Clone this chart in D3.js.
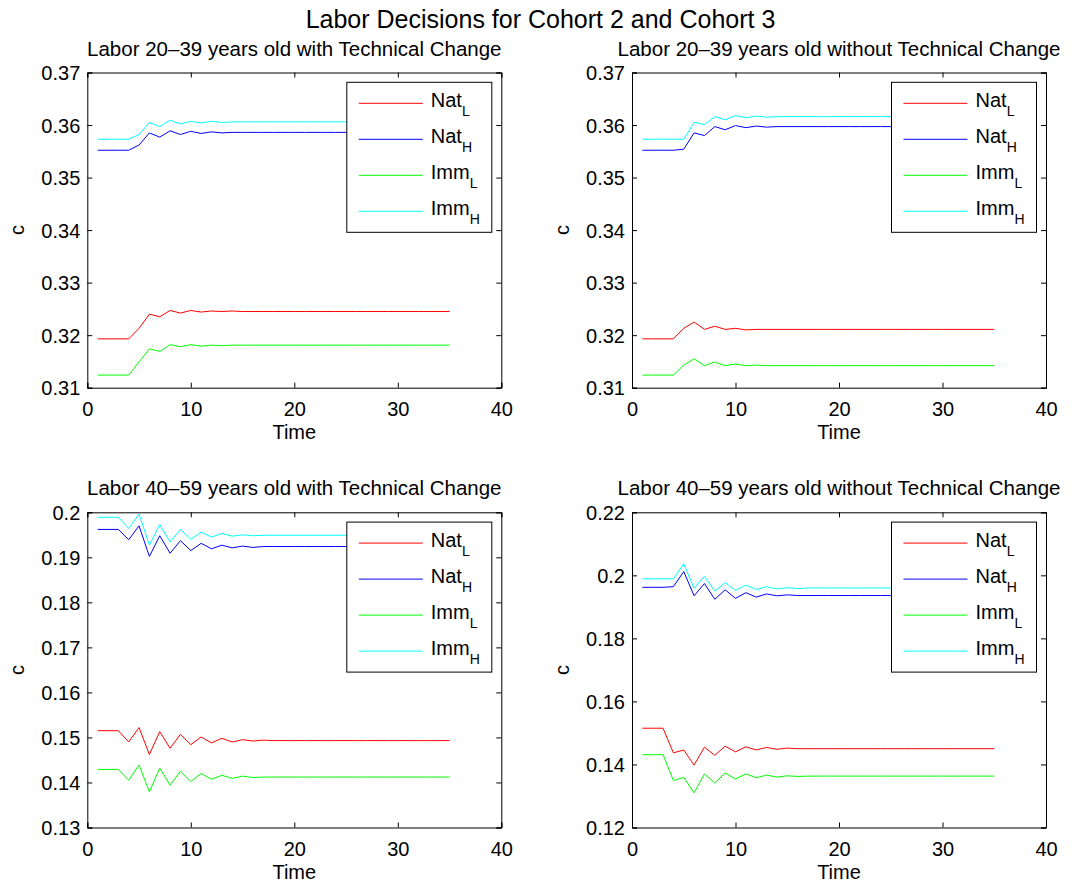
<!DOCTYPE html>
<html>
<head>
<meta charset="utf-8">
<script src="https://cdn.jsdelivr.net/npm/d3@7/dist/d3.min.js"></script>
<style>
  html, body { margin: 0; padding: 0; background: #fff; }
  svg { display: block; }
  text { font-family: "Liberation Sans", Arial, Helvetica, sans-serif; fill: #000; }
</style>
</head>
<body>
<svg id="chart" width="1081" height="882"></svg>
<script>
// ---------------- DATA ----------------
const mainTitle = "Labor Decisions for Cohort 2 and Cohort 3";
const panelTitles = [
  "Labor 20\u201339 years old with Technical Change",
  "Labor 20\u201339 years old without Technical Change",
  "Labor 40\u201359 years old with Technical Change",
  "Labor 40\u201359 years old without Technical Change"
];
const seriesNames = ["Nat", "Nat", "Imm", "Imm"];
const seriesSubs = ["L", "H", "L", "H"];
const seriesColors = ["#ff0000", "#0000ff", "#00ff00", "#00ffff"];

const time = [1,2,3,4,5,6,7,8,9,10,11,12,13,14,15,16,17,18,19,20,21,22,23,24,25,26,27,28,29,30,31,32,33,34,35];

const xTicks = [0, 10, 20, 30, 40];
const yTicksTop = [0.31, 0.32, 0.33, 0.34, 0.35, 0.36, 0.37];
const yTickLabelsTop = ["0.31", "0.32", "0.33", "0.34", "0.35", "0.36", "0.37"];
const yTicksBL = [0.13, 0.14, 0.15, 0.16, 0.17, 0.18, 0.19, 0.2];
const yTickLabelsBL = ["0.13", "0.14", "0.15", "0.16", "0.17", "0.18", "0.19", "0.2"];
const yTicksBR = [0.12, 0.14, 0.16, 0.18, 0.2, 0.22];
const yTickLabelsBR = ["0.12", "0.14", "0.16", "0.18", "0.2", "0.22"];

// Panel 1: 20-39, with technical change
const p1NatL = [0.3193,0.3193,0.3193,0.3193,0.3213,0.3240,0.3235,0.3247,0.3242,0.3247,
                0.3244,0.3246,0.3245,0.3246,0.3245,0.3245,0.3245,0.3245,0.3245,0.3245,
                0.3245,0.3245,0.3245,0.3245,0.3245,0.3245,0.3245,0.3245,0.3245,0.3245,
                0.3245,0.3245,0.3245,0.3245,0.3245];
const p1NatH = [0.3552,0.3552,0.3552,0.3552,0.3562,0.3585,0.3577,0.3589,0.3582,0.3588,
                0.3584,0.3587,0.3585,0.3586,0.3586,0.3586,0.3586,0.3586,0.3586,0.3586,
                0.3586,0.3586,0.3586,0.3586,0.3586,0.3586,0.3586,0.3586,0.3586,0.3586,
                0.3586,0.3586,0.3586,0.3586,0.3586];
const p1ImmL = [0.3124,0.3124,0.3124,0.3124,0.3149,0.3174,0.3169,0.3182,0.3178,0.3182,
                0.3179,0.3181,0.3180,0.3181,0.3181,0.3181,0.3181,0.3181,0.3181,0.3181,
                0.3181,0.3181,0.3181,0.3181,0.3181,0.3181,0.3181,0.3181,0.3181,0.3181,
                0.3181,0.3181,0.3181,0.3181,0.3181];
const p1ImmH = [0.3573,0.3573,0.3573,0.3573,0.3582,0.3605,0.3597,0.3609,0.3602,0.3607,
                0.3604,0.3607,0.3605,0.3606,0.3606,0.3606,0.3606,0.3606,0.3606,0.3606,
                0.3606,0.3606,0.3606,0.3606,0.3606,0.3606,0.3606,0.3606,0.3606,0.3606,
                0.3606,0.3606,0.3606,0.3606,0.3606];

// Panel 2: 20-39, without technical change
const p2NatL = [0.3193,0.3193,0.3193,0.3193,0.3213,0.3225,0.3211,0.3217,0.3211,0.3213,
                0.3210,0.3211,0.3211,0.3211,0.3211,0.3211,0.3211,0.3211,0.3211,0.3211,
                0.3211,0.3211,0.3211,0.3211,0.3211,0.3211,0.3211,0.3211,0.3211,0.3211,
                0.3211,0.3211,0.3211,0.3211,0.3211];
const p2NatH = [0.3552,0.3552,0.3552,0.3552,0.3554,0.3585,0.3580,0.3597,0.3591,0.3599,
                0.3595,0.3598,0.3596,0.3597,0.3597,0.3597,0.3597,0.3597,0.3597,0.3597,
                0.3597,0.3597,0.3597,0.3597,0.3597,0.3597,0.3597,0.3597,0.3597,0.3597,
                0.3597,0.3597,0.3597,0.3597,0.3597];
const p2ImmL = [0.3124,0.3124,0.3124,0.3124,0.3143,0.3155,0.3142,0.3149,0.3142,0.3145,
                0.3142,0.3143,0.3142,0.3142,0.3142,0.3142,0.3142,0.3142,0.3142,0.3142,
                0.3142,0.3142,0.3142,0.3142,0.3142,0.3142,0.3142,0.3142,0.3142,0.3142,
                0.3142,0.3142,0.3142,0.3142,0.3142];
const p2ImmH = [0.3573,0.3573,0.3573,0.3573,0.3573,0.3605,0.3601,0.3616,0.3610,0.3618,
                0.3614,0.3617,0.3615,0.3616,0.3616,0.3616,0.3616,0.3616,0.3616,0.3616,
                0.3616,0.3616,0.3616,0.3616,0.3616,0.3616,0.3616,0.3616,0.3616,0.3616,
                0.3616,0.3616,0.3616,0.3616,0.3616];

// Panel 3: 40-59, with technical change
const p3NatL = [0.1515,0.1515,0.1515,0.1490,0.1522,0.1462,0.1513,0.1476,0.1507,0.1484,
                0.1501,0.1488,0.1498,0.1490,0.1495,0.1492,0.1494,0.1493,0.1493,0.1493,
                0.1493,0.1493,0.1493,0.1493,0.1493,0.1493,0.1493,0.1493,0.1493,0.1493,
                0.1493,0.1493,0.1493,0.1493,0.1493];
const p3NatH = [0.1962,0.1962,0.1962,0.1939,0.1970,0.1902,0.1948,0.1909,0.1937,0.1915,
                0.1931,0.1919,0.1927,0.1921,0.1925,0.1922,0.1924,0.1924,0.1924,0.1924,
                0.1924,0.1924,0.1924,0.1924,0.1924,0.1924,0.1924,0.1924,0.1924,0.1924,
                0.1924,0.1924,0.1924,0.1924,0.1924];
const p3ImmL = [0.1429,0.1429,0.1429,0.1405,0.1439,0.1379,0.1432,0.1394,0.1425,0.1402,
                0.1420,0.1407,0.1416,0.1409,0.1414,0.1411,0.1412,0.1412,0.1412,0.1412,
                0.1412,0.1412,0.1412,0.1412,0.1412,0.1412,0.1412,0.1412,0.1412,0.1412,
                0.1412,0.1412,0.1412,0.1412,0.1412];
const p3ImmH = [0.1989,0.1989,0.1989,0.1964,0.1996,0.1927,0.1973,0.1934,0.1962,0.1940,
                0.1956,0.1945,0.1953,0.1947,0.1950,0.1948,0.1949,0.1949,0.1949,0.1949,
                0.1949,0.1949,0.1949,0.1949,0.1949,0.1949,0.1949,0.1949,0.1949,0.1949,
                0.1949,0.1949,0.1949,0.1949,0.1949];

// Panel 4: 40-59, without technical change
const p4NatL = [0.1515,0.1515,0.1515,0.1437,0.1446,0.1398,0.1455,0.1429,0.1458,0.1440,
                0.1456,0.1446,0.1454,0.1448,0.1452,0.1450,0.1450,0.1450,0.1450,0.1450,
                0.1450,0.1450,0.1450,0.1450,0.1450,0.1450,0.1450,0.1450,0.1450,0.1450,
                0.1450,0.1450,0.1450,0.1450,0.1450];
const p4NatH = [0.1962,0.1962,0.1962,0.1964,0.2012,0.1935,0.1974,0.1924,0.1954,0.1927,
                0.1945,0.1931,0.1941,0.1935,0.1938,0.1936,0.1936,0.1936,0.1936,0.1936,
                0.1936,0.1936,0.1936,0.1936,0.1936,0.1936,0.1936,0.1936,0.1936,0.1936,
                0.1936,0.1936,0.1936,0.1936,0.1936];
const p4ImmL = [0.1431,0.1431,0.1431,0.1349,0.1359,0.1310,0.1370,0.1341,0.1373,0.1354,
                0.1370,0.1358,0.1366,0.1360,0.1364,0.1362,0.1363,0.1363,0.1363,0.1363,
                0.1363,0.1363,0.1363,0.1363,0.1363,0.1363,0.1363,0.1363,0.1363,0.1363,
                0.1363,0.1363,0.1363,0.1363,0.1363];
const p4ImmH = [0.1989,0.1989,0.1989,0.1989,0.2037,0.1959,0.1997,0.1950,0.1977,0.1952,
                0.1969,0.1955,0.1964,0.1957,0.1961,0.1958,0.1960,0.1960,0.1960,0.1960,
                0.1960,0.1960,0.1960,0.1960,0.1960,0.1960,0.1960,0.1960,0.1960,0.1960,
                0.1960,0.1960,0.1960,0.1960,0.1960];

// ---------------- LAYOUT ----------------
const svg = d3.select("#chart");
const AW = 414, AH = 315.2;
const panels = [
  { x0: 87.3, y0: 72.5,  title: panelTitles[0], yDomain: [0.31, 0.37], yTicks: yTicksTop, yLabels: yTickLabelsTop, series: [p1NatL, p1NatH, p1ImmL, p1ImmH] },
  { x0: 632,  y0: 72.5,  title: panelTitles[1], yDomain: [0.31, 0.37], yTicks: yTicksTop, yLabels: yTickLabelsTop, series: [p2NatL, p2NatH, p2ImmL, p2ImmH] },
  { x0: 87.3, y0: 512.3, title: panelTitles[2], yDomain: [0.13, 0.2],  yTicks: yTicksBL,  yLabels: yTickLabelsBL,  series: [p3NatL, p3NatH, p3ImmL, p3ImmH] },
  { x0: 632,  y0: 512.3, title: panelTitles[3], yDomain: [0.12, 0.22], yTicks: yTicksBR,  yLabels: yTickLabelsBR,  series: [p4NatL, p4NatH, p4ImmL, p4ImmH] }
];

svg.append("text")
  .attr("x", 540.5).attr("y", 28)
  .attr("text-anchor", "middle")
  .style("font-size", "25px")
  .text(mainTitle);

const TICK = 5;
const FS = 20;

panels.forEach(p => {
  const g = svg.append("g").attr("transform", `translate(${p.x0},${p.y0})`);
  const x = d3.scaleLinear().domain([0, 40]).range([0, AW]);
  const y = d3.scaleLinear().domain(p.yDomain).range([AH, 0]);

  // lines
  const line = d3.line().x((d, i) => x(time[i])).y(d => y(d));
  p.series.forEach((s, k) => {
    g.append("path")
      .datum(s)
      .attr("d", line)
      .attr("fill", "none")
      .attr("stroke", seriesColors[k])
      .attr("stroke-width", 1);
  });

  // axes (ticks inward, all four sides)
  const axBottom = d3.axisBottom(x).tickValues(xTicks).tickSize(-TICK).tickFormat(d => d);
  const axTop = d3.axisTop(x).tickValues(xTicks).tickSize(-TICK).tickFormat("");
  const axLeft = d3.axisLeft(y).tickValues(p.yTicks).tickSize(-TICK).tickFormat((d, i) => p.yLabels[i]);
  const axRight = d3.axisRight(y).tickValues(p.yTicks).tickSize(-TICK).tickFormat("");

  const gb = g.append("g").attr("transform", `translate(0,${AH})`).call(axBottom);
  const gt = g.append("g").call(axTop);
  const gl = g.append("g").call(axLeft);
  const gr = g.append("g").attr("transform", `translate(${AW},0)`).call(axRight);
  [gb, gt, gl, gr].forEach(a => {
    a.select(".domain").attr("stroke", "#000").attr("stroke-width", 1);
    a.selectAll(".tick line").attr("stroke", "#000");
    a.selectAll("text").style("font-size", FS + "px")
      .style("font-family", '"Liberation Sans", Arial, sans-serif').attr("fill", "#000");
  });
  gb.selectAll(".tick text").attr("y", 14).attr("dy", "0.71em");
  gl.selectAll(".tick text").attr("x", -7).attr("dy", "0.36em");

  // title
  g.append("text")
    .attr("x", AW / 2).attr("y", -17)
    .attr("text-anchor", "middle")
    .style("font-size", "20.5px")
    .text(p.title);

  // axis labels
  g.append("text")
    .attr("x", AW / 2).attr("y", AH + 51.5)
    .attr("text-anchor", "middle")
    .style("font-size", FS + "px")
    .text("Time");
  g.append("text")
    .attr("transform", `translate(-63,${AH / 2}) rotate(-90)`)
    .attr("text-anchor", "middle")
    .style("font-size", FS + "px")
    .text("c");

  // legend
  const lg = g.append("g").attr("transform", `translate(${AW - 154.5},${9.8})`);
  lg.append("rect")
    .attr("x", 0).attr("y", 0).attr("width", 145).attr("height", 150)
    .attr("fill", "#fff").attr("stroke", "#000").attr("stroke-width", 1);
  seriesNames.forEach((name, k) => {
    const yy = 21 + k * 36;
    lg.append("line")
      .attr("x1", 12).attr("x2", 76).attr("y1", yy).attr("y2", yy)
      .attr("stroke", seriesColors[k]).attr("stroke-width", 1);
    const t = lg.append("text")
      .attr("x", 84).attr("y", yy + 4)
      .style("font-size", FS + "px");
    t.append("tspan").text(name);
    t.append("tspan").attr("dy", 9).style("font-size", "14px").text(seriesSubs[k]);
  });
});
</script>
</body>
</html>
